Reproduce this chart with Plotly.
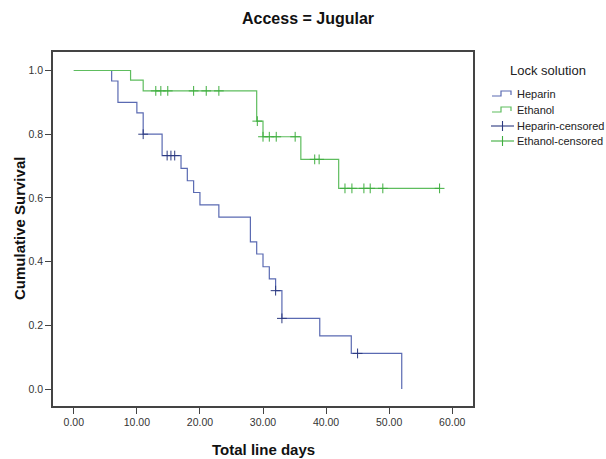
import plotly.graph_objects as go

# Heparin step curve (event times, survival after event)
hep_times = [0, 6, 7, 10, 11, 14, 17, 18, 19, 20, 23, 28, 29, 30, 31, 32, 33, 39, 44, 52, 52]
hep_surv = [1.0, 0.967, 0.900, 0.867, 0.800, 0.733, 0.693, 0.654, 0.617, 0.578, 0.540, 0.462,
            0.424, 0.384, 0.346, 0.309, 0.222, 0.167, 0.112, 0.0, 0.0]
hep_cens_t = [11, 14.8, 15.4, 16.0, 32, 33, 45]
hep_cens_s = [0.800, 0.733, 0.733, 0.733, 0.309, 0.222, 0.112]

# Ethanol step curve
eth_times = [0, 9, 11, 29, 30, 36, 42, 58]
eth_surv = [1.0, 0.970, 0.936, 0.841, 0.792, 0.721, 0.630, 0.630]
eth_cens_t = [13.0, 13.8, 14.9, 19.0, 21.0, 23.0, 29.1, 30.0, 31.0, 32.1, 35.1, 38.2, 38.9,
              43.0, 44.1, 46.0, 47.0, 49.0, 58.0]
eth_cens_s = [0.936, 0.936, 0.936, 0.936, 0.936, 0.936, 0.841, 0.792, 0.792, 0.792, 0.792,
              0.721, 0.721, 0.630, 0.630, 0.630, 0.630, 0.630, 0.630]

x_ticks = [0, 10, 20, 30, 40, 50, 60]
y_ticks = [0.0, 0.2, 0.4, 0.6, 0.8, 1.0]
legend_title = "Lock solution"
legend_names = ["Heparin", "Ethanol", "Heparin-censored", "Ethanol-censored"]

HEP = "#5a6ab2"
HEP_C = "#2c3a80"
ETH = "#5ebd5e"
ETH_C = "#3fae3f"

W, H = 606, 459
L, R, T, B = 53, 473, 52, 406  # plot area in pixels


def px(x):
    return (x - L) / (R - L)


def py(y):
    return (B - y) / (B - T)


fig = go.Figure()
fig.add_trace(go.Scatter(x=hep_times, y=hep_surv, mode="lines",
                         line=dict(shape="hv", color=HEP, width=1.2), name=legend_names[0]))
fig.add_trace(go.Scatter(x=eth_times, y=eth_surv, mode="lines",
                         line=dict(shape="hv", color=ETH, width=1.2), name=legend_names[1]))
fig.add_trace(go.Scatter(x=hep_cens_t, y=hep_cens_s, mode="markers",
                         marker=dict(symbol="cross-thin", size=7, line=dict(color=HEP_C, width=1)),
                         name=legend_names[2]))
fig.add_trace(go.Scatter(x=eth_cens_t, y=eth_cens_s, mode="markers",
                         marker=dict(symbol="cross-thin", size=7, line=dict(color=ETH_C, width=1)),
                         name=legend_names[3]))

font_family = "Liberation Sans, Arial, sans-serif"

annotations = [
    dict(text="<b>Access = Jugular</b>", x=px(308), y=py(18), xref="paper", yref="paper",
         xanchor="center", yanchor="middle", showarrow=False, font=dict(size=16, color="#111")),
    dict(text="<b>Total line days</b>", x=px(263), y=py(449), xref="paper", yref="paper",
         xanchor="center", yanchor="middle", showarrow=False, font=dict(size=15, color="#111")),
    dict(text="<b>Cumulative Survival</b>", x=px(19), y=py(229), xref="paper", yref="paper",
         xanchor="center", yanchor="middle", showarrow=False, textangle=-90,
         font=dict(size=15, color="#111")),
    dict(text=legend_title, x=px(548), y=py(70), xref="paper", yref="paper",
         xanchor="center", yanchor="middle", showarrow=False, font=dict(size=13, color="#222")),
]

item_y = [94, 110, 126, 141]
item_col = [HEP, ETH, HEP_C, ETH_C]
shapes = []
for i, (name, yy, col) in enumerate(zip(legend_names, item_y, item_col)):
    annotations.append(dict(text=name, x=px(515), y=py(yy), xref="paper", yref="paper",
                            xanchor="left", yanchor="middle", showarrow=False,
                            font=dict(size=11, color="#222")))
    if i < 2:
        path = "M {} {} L {} {} L {} {} L {} {} L {} {}".format(
            px(492), py(yy + 2), px(501), py(yy + 2), px(501), py(yy - 3),
            px(511), py(yy - 3), px(511), py(yy + 1))
        shapes.append(dict(type="path", path=path, xref="paper", yref="paper",
                           line=dict(color=col, width=1.2)))
    else:
        shapes.append(dict(type="line", x0=px(491), x1=px(514), y0=py(yy), y1=py(yy),
                           xref="paper", yref="paper", line=dict(color=col, width=1.1)))
        shapes.append(dict(type="line", x0=px(502.5), x1=px(502.5), y0=py(yy - 5), y1=py(yy + 5),
                           xref="paper", yref="paper", line=dict(color=col, width=1.1)))

fig.update_layout(
    width=W, height=H,
    margin=dict(l=L, r=W - R, t=T, b=H - B, autoexpand=False),
    paper_bgcolor="white", plot_bgcolor="white",
    font=dict(family=font_family, color="#222", size=10),
    showlegend=False,
    annotations=annotations,
    shapes=shapes,
    xaxis=dict(range=[-3.3, 63.3], tickvals=x_ticks, tickformat=".2f", showgrid=False, zeroline=False,
               showline=True, linecolor="#444", linewidth=1.5, mirror=True, automargin=False,
               ticks="outside", ticklen=6, tickcolor="#444", tickwidth=1.2,
               tickfont=dict(size=10.5, color="#333")),
    yaxis=dict(range=[-0.053, 1.058], tickvals=y_ticks, tickformat=".1f", showgrid=False, zeroline=False,
               showline=True, linecolor="#444", linewidth=1.5, mirror=True, automargin=False,
               ticks="outside", ticklen=6, tickcolor="#444", tickwidth=1.2,
               tickfont=dict(size=10.5, color="#333")),
)

fig.write_html("out.html", config={"displayModeBar": False},
               post_script="document.body.style.margin='0px';document.body.style.overflow='hidden';")
